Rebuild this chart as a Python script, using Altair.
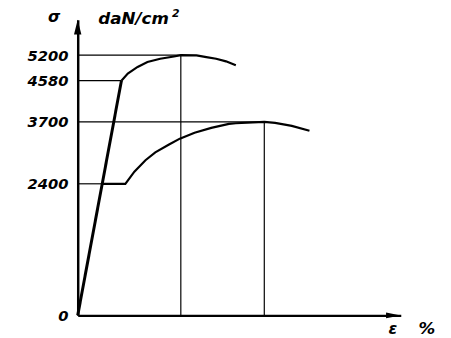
import altair as alt
import pandas as pd

# Stress levels shown on the axis (daN/cm^2)
y_ticks = [0, 2400, 3700, 4580, 5200]

# Elastic (common) line
elastic_eps = [0.0, 4.45]
elastic_sig = [0, 4580]

# Upper material curve (after elastic limit)
upper_eps = [4.45, 5.1, 6.1, 7.1, 8.4, 9.8, 10.5, 12.1, 13.1, 14.1, 15.1, 16.1]
upper_sig = [4580, 4754, 4914, 5033, 5112, 5169, 5200, 5195, 5152, 5112, 5050, 4955]

# Lower material curve (yield plateau then hardening)
lower_eps = [2.5, 4.85, 5.77, 6.9, 7.9, 9.3, 10.4, 11.9, 13.6, 15.4, 16.1, 19.0, 20.1, 21.8, 23.6]
lower_sig = [2400, 2400, 2654, 2895, 3060, 3225, 3349, 3473, 3576, 3658, 3673, 3700, 3679, 3617, 3514]

# Reference (construction) lines
href_x2 = [10.5, 4.45, 19.0, 2.5]
href_y = [5200, 4580, 3700, 2400]
vref_x = [10.5, 19.0]
vref_y2 = [5200, 3700]

W, H = 329, 301
FONT = "DejaVu Sans"

xscale = alt.Scale(domain=[0, 32.9], nice=False, zero=False)
yscale = alt.Scale(domain=[0, 2400, 3700, 4580, 5200, 6000],
                   range=[301, 167, 104, 62, 36, 0], nice=False, zero=False)

curves = pd.concat([
    pd.DataFrame({"eps": elastic_eps, "sig": elastic_sig, "curve": "elastic", "i": range(len(elastic_eps))}),
    pd.DataFrame({"eps": upper_eps, "sig": upper_sig, "curve": "upper", "i": range(len(upper_eps))}),
    pd.DataFrame({"eps": lower_eps, "sig": lower_sig, "curve": "lower", "i": range(len(lower_eps))}),
])

href = pd.DataFrame({"x": [0.0] * len(href_y), "x2": href_x2, "y": href_y})
vref = pd.DataFrame({"x": vref_x, "y": [0] * len(vref_x), "y2": vref_y2})

base_x = alt.X("x:Q", scale=xscale,
               axis=alt.Axis(labels=False, ticks=False, grid=False, title=None,
                             domainColor="black", domainWidth=2.5))
base_y = alt.Y("y:Q", scale=yscale,
               axis=alt.Axis(values=y_ticks, format="d", ticks=False, grid=False, title=None,
                             domainColor="black", domainWidth=2.5,
                             labelFont=FONT, labelFontSize=15, labelFontWeight="bold",
                             labelFontStyle="italic", labelColor="black",
                             labelPadding=10, labelFlush=False, labelOverlap=False))

hrules = alt.Chart(href).mark_rule(color="black", strokeWidth=1.2).encode(
    x=base_x, x2="x2:Q", y=base_y)
vrules = alt.Chart(vref).mark_rule(color="black", strokeWidth=1.2).encode(
    x=alt.X("x:Q", scale=xscale), y=alt.Y("y:Q", scale=yscale), y2="y2:Q")

elastic = alt.Chart(curves[curves.curve == "elastic"]).mark_line(
    color="black", strokeWidth=3).encode(
    x=alt.X("eps:Q", scale=xscale), y=alt.Y("sig:Q", scale=yscale), order="i:Q")
other = alt.Chart(curves[curves.curve != "elastic"]).mark_line(
    color="black", strokeWidth=2.2).encode(
    x=alt.X("eps:Q", scale=xscale), y=alt.Y("sig:Q", scale=yscale),
    detail="curve:N", order="i:Q")

up_arrow = alt.Chart(pd.DataFrame({"a": [0]})).mark_point(
    shape="M0,0L-0.25,1L0.25,1Z", filled=True, color="black", opacity=1, size=900).encode(
    x=alt.value(0), y=alt.value(0))
right_arrow = alt.Chart(pd.DataFrame({"a": [0]})).mark_point(
    shape="M0,0L-1,-0.2L-1,0.2Z", filled=True, color="black", opacity=1, size=900).encode(
    x=alt.value(W), y=alt.value(H))

def label(txt, x, y, size=16, align="left"):
    return alt.Chart(pd.DataFrame({"t": [txt]})).mark_text(
        font=FONT, fontSize=size, fontWeight="bold", fontStyle="italic",
        color="black", align=align, baseline="alphabetic").encode(
        text="t:N", x=alt.value(x), y=alt.value(y))

texts = [
    label("σ", -24, 2, 16, "center"),
    label("daN/cm", 21, 4, 17),
    label("2", 96, -3, 11),
    label("ε", 321, 320, 16, "center"),
    label("%", 347, 320, 17),
]

chart = alt.layer(hrules, vrules, elastic, other, up_arrow, right_arrow, *texts).properties(
    width=W, height=H,
    autosize=alt.AutoSizeParams(type="none"),
    padding={"left": 71, "top": 9, "right": 43, "bottom": 20},
).configure_view(stroke=None)

chart.save("out.html", embed_options={"renderer": "svg", "actions": False})
